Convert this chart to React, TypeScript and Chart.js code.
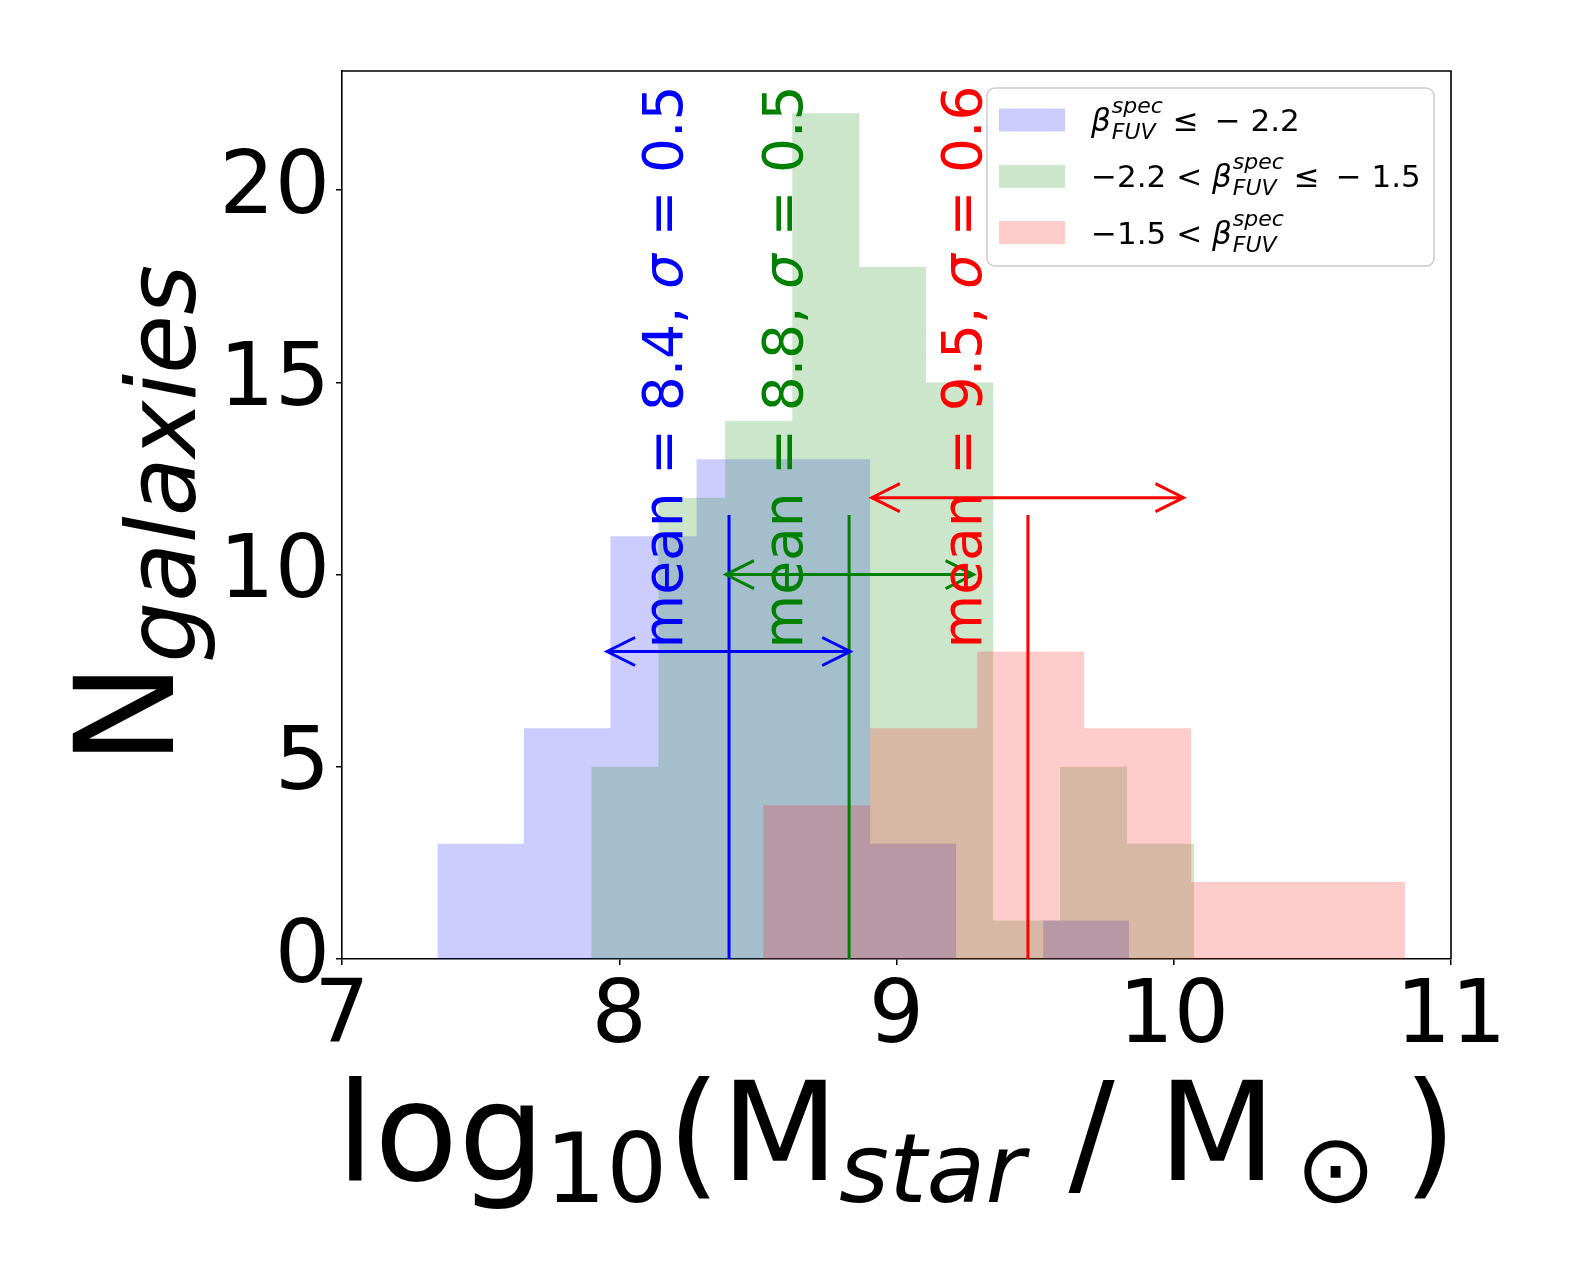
import { useEffect, useRef } from "react";
import { Chart, registerables } from "chart.js";

Chart.register(...registerables);

// axes
const X_TICKS = [7, 8, 9, 10, 11];
const Y_TICKS = [0, 5, 10, 15, 20];
const X_MIN = 7;
const X_MAX = 11;
const Y_MAX = 23.1;

// histogram bin edges (n+1) and counts (n)
const BLUE_EDGES = [7.344, 7.656, 7.968, 8.279, 8.591, 8.905, 9.215, 9.529, 9.839];
const BLUE_COUNTS = [3, 6, 11, 13, 13, 3, 0, 1];
const GREEN_EDGES = [7.899, 8.141, 8.382, 8.624, 8.866, 9.107, 9.349, 9.59, 9.832, 10.074];
const GREEN_COUNTS = [5, 12, 14, 22, 18, 15, 1, 5, 3];
const RED_EDGES = [8.519, 8.905, 9.291, 9.677, 10.063, 10.448, 10.834];
const RED_COUNTS = [4, 6, 8, 6, 2, 2];

// mean markers and +/- sigma arrows
const MEANS = [8.396, 8.829, 9.474];
const ARROW_FROM = [7.956, 8.385, 8.911];
const ARROW_TO = [8.833, 9.278, 10.035];
const ARROW_Y = [8, 10, 12];
const MEAN_LABELS = ["8.4", "8.8", "9.5"];
const SIGMA_LABELS = ["0.5", "0.5", "0.6"];

const FONT = '"DejaVu Sans"';
const LINE_COLORS = ["#0000ff", "#008000", "#ff0000"];
const FILL_COLORS = ["rgba(0, 0, 255, 0.2)", "rgba(0, 128, 0, 0.2)", "rgba(255, 0, 0, 0.2)"];

const W = 1578;
const H = 1282;

type Run = { text: string; size: number; italic?: boolean; dy?: number };

const font = (size: number, italic = false) => `${italic ? "italic " : ""}${size}px ${FONT}`;

function runsWidth(ctx: CanvasRenderingContext2D, runs: Run[]) {
  let w = 0;
  for (const r of runs) {
    ctx.font = font(r.size, r.italic);
    w += ctx.measureText(r.text).width;
  }
  return w;
}

function drawRuns(ctx: CanvasRenderingContext2D, runs: Run[], x: number, y: number) {
  ctx.textAlign = "left";
  ctx.textBaseline = "alphabetic";
  let cx = x;
  for (const r of runs) {
    ctx.font = font(r.size, r.italic);
    ctx.fillText(r.text, cx, y + (r.dy || 0));
    cx += ctx.measureText(r.text).width;
  }
  return cx;
}

// beta^spec_FUV, returns x after it
function drawBeta(ctx: CanvasRenderingContext2D, x: number, y: number, size: number) {
  const small = Math.round(size * 0.7);
  ctx.font = font(size, true);
  ctx.fillText("β", x, y);
  const bx = x + ctx.measureText("β").width + 1;
  ctx.font = font(small, true);
  ctx.fillText("spec", bx, y - 18);
  const ws = ctx.measureText("spec").width;
  ctx.fillText("FUV", bx, y + 8);
  const wf = ctx.measureText("FUV").width;
  return bx + Math.max(ws, wf);
}

function histPoints(edges: number[], counts: number[]) {
  const pts = counts.map((c, i) => ({ x: edges[i], y: c }));
  pts.push({ x: edges[edges.length - 1], y: 0 });
  return pts;
}

const overlayPlugin = {
  id: "overlay",
  afterDatasetsDraw(chart: any) {
    const { ctx, scales } = chart;
    const xs = scales.x;
    const ys = scales.y;
    ctx.save();
    // arrow heads
    ctx.lineWidth = 3;
    ctx.lineJoin = "miter";
    for (let i = 0; i < MEANS.length; i++) {
      const py = ys.getPixelForValue(ARROW_Y[i]);
      const x0 = xs.getPixelForValue(ARROW_FROM[i]);
      const x1 = xs.getPixelForValue(ARROW_TO[i]);
      ctx.strokeStyle = LINE_COLORS[i];
      ctx.beginPath();
      ctx.moveTo(x0 + 28, py - 14);
      ctx.lineTo(x0, py);
      ctx.lineTo(x0 + 28, py + 14);
      ctx.moveTo(x1 - 28, py - 14);
      ctx.lineTo(x1, py);
      ctx.lineTo(x1 - 28, py + 14);
      ctx.stroke();
    }
    // rotated mean / sigma labels
    for (let i = 0; i < MEANS.length; i++) {
      const px = xs.getPixelForValue(MEANS[i] - 0.17);
      const py = ys.getPixelForValue(8.08);
      ctx.save();
      ctx.translate(px, py);
      ctx.rotate(-Math.PI / 2);
      ctx.fillStyle = LINE_COLORS[i];
      drawRuns(
        ctx,
        [
          { text: `mean = ${MEAN_LABELS[i]}, `, size: 55 },
          { text: "σ", size: 55, italic: true },
          { text: ` = ${SIGMA_LABELS[i]}`, size: 55 },
        ],
        0,
        0,
      );
      ctx.restore();
    }
    ctx.restore();
  },
  afterDraw(chart: any) {
    const { ctx, chartArea: a } = chart;
    ctx.save();
    // top and right spines
    ctx.strokeStyle = "#000";
    ctx.lineWidth = 1.6;
    ctx.beginPath();
    ctx.moveTo(a.left, a.top);
    ctx.lineTo(a.right, a.top);
    ctx.lineTo(a.right, a.bottom);
    ctx.stroke();

    // legend
    const bw = 447;
    const bh = 178;
    const bx = a.right - 17 - bw;
    const by = a.top + 17;
    ctx.beginPath();
    ctx.roundRect(bx, by, bw, bh, 8);
    ctx.fillStyle = "rgba(255, 255, 255, 0.8)";
    ctx.fill();
    ctx.strokeStyle = "#cccccc";
    ctx.lineWidth = 1.5;
    ctx.stroke();
    const LS = 31;
    for (let i = 0; i < 3; i++) {
      const rowY = by + 32 + i * 56.3;
      ctx.fillStyle = FILL_COLORS[i];
      ctx.fillRect(bx + 12, rowY - 11.5, 66, 23);
      ctx.fillStyle = "#000";
      const tx = bx + 104;
      const base = rowY + 11;
      ctx.textAlign = "left";
      ctx.textBaseline = "alphabetic";
      if (i === 0) {
        const ex = drawBeta(ctx, tx, base, LS);
        drawRuns(ctx, [{ text: " ≤ \u2009− 2.2", size: LS }], ex, base);
      } else if (i === 1) {
        const sx = drawRuns(ctx, [{ text: "−2.2 < ", size: LS }], tx, base);
        const ex = drawBeta(ctx, sx, base, LS);
        drawRuns(ctx, [{ text: " ≤ \u2009− 1.5", size: LS }], ex, base);
      } else {
        const sx = drawRuns(ctx, [{ text: "−1.5 < ", size: LS }], tx, base);
        drawBeta(ctx, sx, base, LS);
      }
    }

    // axis titles
    ctx.fillStyle = "#000";
    const xTitle: Run[] = [
      { text: "log", size: 137 },
      { text: "10", size: 96, dy: 22 },
      { text: "(M", size: 137 },
      { text: "star", size: 96, italic: true, dy: 22 },
      { text: " / M", size: 137 },
      { text: "\u2009⊙", size: 96, dy: 22 },
      { text: "\u2009)", size: 137 },
    ];
    const xw = runsWidth(ctx, xTitle);
    drawRuns(ctx, xTitle, (a.left + a.right) / 2 - xw / 2, 1180);

    const yTitle: Run[] = [
      { text: "N", size: 137 },
      { text: "galaxies", size: 96, italic: true, dy: 22 },
    ];
    const yw = runsWidth(ctx, yTitle);
    ctx.translate(173, (a.top + a.bottom) / 2);
    ctx.rotate(-Math.PI / 2);
    drawRuns(ctx, yTitle, -yw / 2, 0);
    ctx.restore();
  },
};

export default function App() {
  const canvasRef = useRef<HTMLCanvasElement | null>(null);

  useEffect(() => {
    if (!canvasRef.current) return;

    const hists = [
      [BLUE_EDGES, BLUE_COUNTS],
      [GREEN_EDGES, GREEN_COUNTS],
      [RED_EDGES, RED_COUNTS],
    ];

    const datasets: any[] = [];
    hists.forEach(([edges, counts], i) => {
      datasets.push({
        data: histPoints(edges, counts),
        // each bin value holds from its left edge to the next one
        stepped: "before",
        fill: "origin",
        backgroundColor: FILL_COLORS[i],
        borderColor: "rgba(0, 0, 0, 0)",
        borderWidth: 0,
        pointRadius: 0,
        order: 10 - i,
      });
    });
    MEANS.forEach((m, i) => {
      datasets.push({
        data: [
          { x: m, y: 0 },
          { x: m, y: Y_MAX / 2 },
        ],
        borderColor: LINE_COLORS[i],
        borderWidth: 3,
        pointRadius: 0,
        fill: false,
        order: 2,
      });
      datasets.push({
        data: [
          { x: ARROW_FROM[i], y: ARROW_Y[i] },
          { x: ARROW_TO[i], y: ARROW_Y[i] },
        ],
        borderColor: LINE_COLORS[i],
        borderWidth: 3,
        pointRadius: 0,
        fill: false,
        order: 1,
      });
    });

    const tickFont = { family: FONT, size: 87 };

    const chart = new Chart(canvasRef.current, {
      type: "line",
      data: { datasets },
      plugins: [overlayPlugin],
      options: {
        animation: false,
        responsive: true,
        maintainAspectRatio: false,
        devicePixelRatio: 1,
        events: [],
        layout: { padding: { top: 71, right: 127, left: 0, bottom: 0 } },
        plugins: {
          legend: { display: false },
          tooltip: { enabled: false },
        },
        scales: {
          x: {
            type: "linear",
            min: X_MIN,
            max: X_MAX,
            afterBuildTicks: (s: any) => {
              s.ticks = X_TICKS.map((v) => ({ value: v }));
            },
            afterFit: (s: any) => {
              s.height = H - 959;
            },
            grid: {
              display: true,
              drawOnChartArea: false,
              drawTicks: true,
              tickLength: 6,
              color: "#000",
              lineWidth: 1.5,
            },
            border: { display: true, color: "#000", width: 1.6 },
            ticks: {
              color: "#000",
              font: tickFont,
              padding: 2,
              maxRotation: 0,
              autoSkip: false,
            },
          },
          y: {
            type: "linear",
            min: 0,
            max: Y_MAX,
            afterBuildTicks: (s: any) => {
              s.ticks = Y_TICKS.map((v) => ({ value: v }));
            },
            afterFit: (s: any) => {
              s.width = 342;
            },
            grid: {
              display: true,
              drawOnChartArea: false,
              drawTicks: true,
              tickLength: 6,
              color: "#000",
              lineWidth: 1.5,
            },
            border: { display: true, color: "#000", width: 1.6 },
            ticks: {
              color: "#000",
              font: tickFont,
              padding: 6,
              autoSkip: false,
            },
          },
        },
      },
    } as any);

    return () => {
      chart.destroy();
    };
  }, []);

  return (
    <div
      style={{
        position: "fixed",
        left: 0,
        top: 0,
        width: `${W}px`,
        height: `${H}px`,
        background: "#fff",
      }}
    >
      <canvas ref={canvasRef} />
    </div>
  );
}
